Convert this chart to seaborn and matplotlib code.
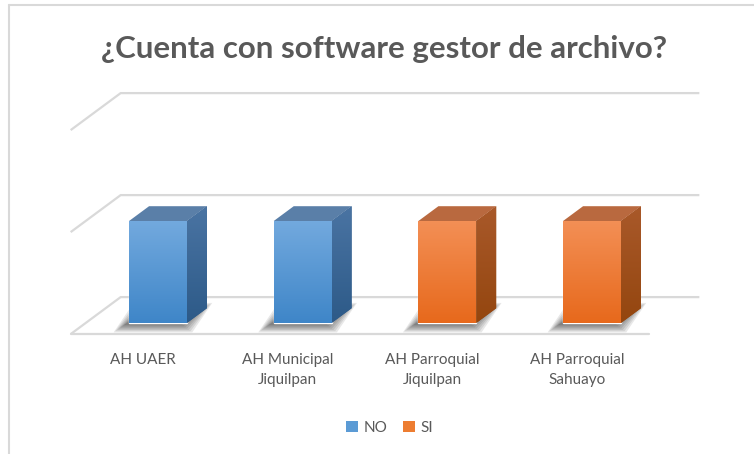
import numpy as np
import pandas as pd
import matplotlib
matplotlib.use("Agg")
import matplotlib.pyplot as plt
from matplotlib.patches import Polygon, Patch
from matplotlib.lines import Line2D
from matplotlib.colors import to_rgb
import seaborn as sns

# datos del grafico
categorias = ["AH UAER", "AH Municipal\nJiquilpan", "AH Parroquial\nJiquilpan", "AH Parroquial\nSahuayo"]
valores = [1, 1, 1, 1]
respuesta = ["NO", "NO", "SI", "SI"]
niveles_y = [0, 1, 2]
titulo = "¿Cuenta con software gestor de archivo?"

colores = {"NO": "#5b9bd5", "SI": "#ed7d31"}
# (frente arriba, frente abajo, lado arriba, lado abajo, tapa)
tonos = {
    "NO": ("#72a9de", "#3f86c8", "#4a74a3", "#2d5a88", "#5a7fa8"),
    "SI": ("#f38f55", "#e7691c", "#a9592a", "#94460f", "#b9693f"),
}
gris_texto = "#595959"
gris_linea = "#d9d9d9"

# perspectiva falsa (unidades de datos)
PROF_X, PROF_Y = 0.3456, 0.3627   # profundidad total del piso
ANCHO = 0.4
FR_BARRA = 0.4    # profundidad de la barra
FR_FRENTE = -0.3  # plano frontal respecto a la cara de la barra
FR_FONDO = 0.7    # pared del fondo

sns.set_theme(style="white")
plt.rcParams["font.family"] = ["Lato", "DejaVu Sans"]

fig = plt.figure(figsize=(7.54, 4.54), dpi=100)
ax = fig.add_axes([0, 0, 1, 1])

df = pd.DataFrame({"cat": categorias, "val": valores, "resp": respuesta})


def gradiente(ax, poli, c1, c2, z):
    # relleno vertical recortado al poligono
    xy = poli.get_patch_transform().transform(poli.get_path().vertices)
    x0, x1 = xy[:, 0].min(), xy[:, 0].max()
    y0, y1 = xy[:, 1].min(), xy[:, 1].max()
    a, b = np.array(to_rgb(c1)), np.array(to_rgb(c2))
    t = np.linspace(0, 1, 64)[:, None]
    img = (a * (1 - t) + b * t)[:, None, :]
    im = ax.imshow(img, extent=(x0, x1, y0, y1), origin="upper", aspect="auto",
                   zorder=z, interpolation="bilinear")
    im.set_clip_path(poli)


# rejilla 3d: pared del fondo, lateral izquierda y piso
xi, xd = -0.5, len(categorias) - 0.5
fx, fy = FR_FRENTE * PROF_X, FR_FRENTE * PROF_Y
bx, by = FR_FONDO * PROF_X, FR_FONDO * PROF_Y
for v in niveles_y:
    ax.plot([xi + fx, xi + bx, xd + bx], [v + fy, v + by, v + by],
            color=gris_linea, lw=1.6, zorder=0, solid_capstyle="butt")
ax.plot([xi + fx, xd + fx], [fy, fy], color=gris_linea, lw=1.6, zorder=0)

# barras (cara frontal)
sns.barplot(data=df, x="cat", y="val", hue="resp", palette=colores, width=ANCHO,
            dodge=False, legend=False, saturation=1, ax=ax, zorder=3)

ddx, ddy = FR_BARRA * PROF_X, FR_BARRA * PROF_Y
for barra, r in zip(list(ax.patches), respuesta):
    x0, w, h = barra.get_x(), barra.get_width(), barra.get_height()
    x1 = x0 + w
    c = tonos[r]
    # sombra difusa sobre el piso
    for k in range(7):
        e = 0.012 * k
        sx, sy = -0.035, -0.02
        pie = [(x0 - e + sx, sy - e), (x1 + e + sx, sy - e),
               (x1 + ddx + e + sx, ddy + e + sy), (x0 + ddx - e + sx, ddy + e + sy)]
        ax.add_patch(Polygon(pie, closed=True, facecolor="black", alpha=0.09,
                             edgecolor="none", zorder=1))
    gradiente(ax, barra, c[0], c[1], 4)
    lado = Polygon([(x1, 0), (x1 + ddx, ddy), (x1 + ddx, h + ddy), (x1, h)],
                   closed=True, facecolor=c[3], edgecolor="none", zorder=3)
    ax.add_patch(lado)
    gradiente(ax, lado, c[2], c[3], 4)
    tapa = Polygon([(x0, h), (x1, h), (x1 + ddx, h + ddy), (x0 + ddx, h + ddy)],
                   closed=True, facecolor=c[4], edgecolor="none", zorder=4)
    ax.add_patch(tapa)

# etiquetas del eje x en el plano frontal
for i, cat in enumerate(categorias):
    ax.text(i + fx, -0.29, cat, ha="center", va="top", multialignment="center",
            fontsize=11, color=gris_texto, linespacing=1.6)

ax.set_xlim(-158 / 144.67, 596 / 144.67)
ax.set_ylim(-131 / 102, 323 / 102)
ax.axis("off")

fig.text(0.509, 1 - 58 / 454, titulo, ha="center", va="baseline",
         fontsize=22.5, fontweight="bold", color=gris_texto)

manijas = [Patch(facecolor=colores[k], edgecolor="none", label=k) for k in colores]
fig.legend(handles=manijas, loc="center", bbox_to_anchor=(0.517, 1 - 428 / 454),
           ncol=2, frameon=False, fontsize=11, labelcolor=gris_texto,
           handlelength=0.75, handleheight=0.75, handletextpad=0.4, columnspacing=1.0)

# borde del area del grafico
fig.add_artist(Line2D([9 / 754, 9 / 754], [0, 1 - 5 / 454], color=gris_linea, lw=1.5))
fig.add_artist(Line2D([9 / 754, 1], [1 - 5 / 454, 1 - 5 / 454], color=gris_linea, lw=1.5))

plt.savefig("out.png", dpi=100)
